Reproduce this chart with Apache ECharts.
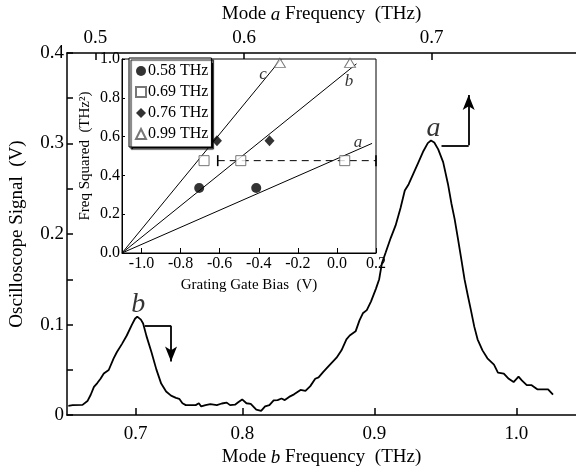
<!DOCTYPE html>
<html><head><meta charset="utf-8">
<script src="https://cdn.jsdelivr.net/npm/echarts@6/dist/echarts.min.js"></script>
<style>html,body{margin:0;padding:0;background:#fff}#c{width:576px;height:472px}</style>
</head><body><div id="c"></div>
<script>
// Main trace: horizontal coordinate (linear scan scale ~ mode-b frequency squared) and signal (V)
const scanPos = [0.3998,0.4056,0.4188,0.4254,0.4298,0.4341,0.4386,0.4429,0.4473,0.4539,
0.4561,0.4605,0.4649,0.4715,0.4781,0.4847,0.4891,0.4921,0.4970,0.5000,
0.5045,0.5111,0.5177,0.5242,0.5308,0.5374,0.5440,0.5484,0.5527,0.5572,
0.5638,0.5704,0.5747,0.5778,0.5836,0.5901,0.5988,0.6054,0.6120,0.6165,
0.6231,0.6274,0.6327,0.6384,0.6442,0.6516,0.6581,0.6634,0.6692,0.6749,
0.6802,0.6854,0.6898,0.6956,0.7022,0.7109,0.7175,0.7240,0.7306,0.7351,
0.7417,0.7504,0.7592,0.7658,0.7724,0.7768,0.7847,0.7899,0.7944,0.7997,
0.8054,0.8120,0.8163,0.8199,0.8251,0.8317,0.8383,0.8449,0.8506,0.8558,
0.8624,0.8690,0.8756,0.8814,0.8857,0.8901,0.8954,0.9020,0.9085,0.9130,
0.9174,0.9217,0.9262,0.9306,0.9349,0.9394,0.9437,0.9481,0.9547,0.9613,
0.9701,0.9754,0.9833,0.9899,0.9964,1.0030,1.0074,1.0140,1.0206,1.0281,
1.0426,1.0492];
const signal = [0.0103,0.0110,0.0113,0.0155,0.0225,0.0312,0.0354,0.0401,0.0459,0.0498,
0.0516,0.0627,0.0697,0.0784,0.0879,0.0994,0.1064,0.1088,0.1054,0.1012,
0.0872,0.0697,0.0505,0.0348,0.0260,0.0215,0.0191,0.0180,0.0131,0.0110,
0.0110,0.0110,0.0131,0.0096,0.0110,0.0121,0.0110,0.0128,0.0138,0.0110,
0.0115,0.0142,0.0173,0.0131,0.0124,0.0061,0.0047,0.0096,0.0110,0.0163,
0.0166,0.0183,0.0166,0.0201,0.0229,0.0278,0.0267,0.0320,0.0401,0.0417,
0.0480,0.0558,0.0634,0.0715,0.0837,0.0879,0.0925,0.1046,0.1124,0.1159,
0.1256,0.1397,0.1501,0.1676,0.1798,0.1955,0.2095,0.2288,0.2480,0.2550,
0.2672,0.2794,0.2917,0.3004,0.3032,0.3011,0.2934,0.2794,0.2550,0.2340,
0.2165,0.1955,0.1728,0.1501,0.1326,0.1151,0.0977,0.0837,0.0715,0.0627,
0.0558,0.0470,0.0459,0.0401,0.0365,0.0425,0.0383,0.0330,0.0330,0.0285,
0.0285,0.0225];

// Frequency tick marks (positions on the scan scale) and their labels
const bottomTickPos = [0.4900, 0.6331, 0.8097, 1.0000];
const bottomTickLabels = ['0.7', '0.8', '0.9', '1.0'];
const topTickPos = [0.4361, 0.6353, 0.8865];
const topTickLabels = ['0.5', '0.6', '0.7'];

// Peak annotations
const peakNames = ['a', 'b'];
const peakLabelPos = [[0.8890, 0.3160], [0.4934, 0.1221]];
const arrowA = [[0.8998, 0.2980], [0.9362, 0.2980], [0.9362, 0.3536]];
const arrowB = [[0.5022, 0.0988], [0.5374, 0.0988], [0.5374, 0.0592]];

// Inset: frequency squared vs grating gate bias
const insetBiasTicks = [-1.0, -0.8, -0.6, -0.4, -0.2, 0.0, 0.2];
const bias058 = [-0.705, -0.413];
const fsq058 = [0.335, 0.335];
const bias069 = [-0.680, -0.492, 0.040];
const fsq069 = [0.476, 0.476, 0.476];
const bias076 = [-0.614, -0.345];
const fsq076 = [0.578, 0.578];
const bias099 = [-0.292, 0.067];
const fsq099 = [0.980, 0.980];
const errBarBias = [-0.61, 0.20];
const errBarFsq = [0.476, 0.476];
const fitNames = ['a', 'b', 'c'];
const fitStartBias = [-1.1, -1.1, -1.1];
const fitStartFsq = [0, 0, 0];
const fitEndBias = [0.180, 0.100, -0.285];
const fitEndFsq = [0.565, 0.975, 1.000];
const fitLabelBias = [0.108, 0.062, -0.378];
const fitLabelFsq = [0.567, 0.885, 0.919];
const legendNames = ['0.58 THz', '0.69 THz', '0.76 THz', '0.99 THz'];

const SERIF = '"Liberation Serif","DejaVu Serif",serif';
const zip = (a, b) => a.map((v, i) => [v, b[i]]);
const lookup = (pos, labels) => v => {
  for (let i = 0; i < pos.length; i++) if (Math.abs(pos[i] - v) < 1e-6) return labels[i];
  return '';
};
const blk = { color: '#000', width: 1.5 };
const thin = { color: '#000', width: 1 };

const chart = echarts.init(document.getElementById('c'), null, { renderer: 'canvas' });
const fitSeries = fitNames.map((n, i) => ({
  type: 'line', xAxisIndex: 2, yAxisIndex: 1, showSymbol: false, symbol: 'none',
  data: [[fitStartBias[i], fitStartFsq[i]], [fitEndBias[i], fitEndFsq[i]]],
  lineStyle: { color: '#000', width: 1 }, silent: true, z: 6
}));
const arrowLine = pts => [
  [{ coord: pts[0], symbol: 'none' }, { coord: pts[1], symbol: 'none' }],
  [{ coord: pts[1], symbol: 'none' }, { coord: pts[2], symbol: 'arrow', symbolSize: [9, 15] }]
];
const italicRich = { i: { fontStyle: 'italic', fontFamily: SERIF, fontSize: 19, color: '#000' } };

chart.setOption({
  animation: false,
  backgroundColor: '#fff',
  grid: [
    { left: 66, top: 45, width: 517.5, height: 381.5, z: 0 },
    { left: 122, top: 59, width: 254, height: 194, show: true, backgroundColor: '#fff', borderColor: '#000', borderWidth: 1, z: 3 }
  ],
  legend: {
    data: legendNames, orient: 'vertical', left: 129, top: 58, z: 20,
    backgroundColor: '#fff', borderColor: '#000', borderWidth: 1,
    shadowColor: '#000', shadowOffsetX: 2, shadowOffsetY: 2, shadowBlur: 1,
    padding: [5, 3, 5, 6], itemGap: 5, itemWidth: 10, itemHeight: 10,
    textStyle: { fontFamily: SERIF, fontSize: 16, color: '#000', padding: [0, 0, 0, -3] },
    selectedMode: false
  },
  xAxis: [
    { type: 'value', gridIndex: 0, position: 'bottom', min: 0.398, max: 1.08,
      axisLine: { lineStyle: blk }, splitLine: { show: false },
      axisTick: { inside: true, length: 7, customValues: bottomTickPos, lineStyle: blk },
      axisLabel: { customValues: bottomTickPos, formatter: lookup(bottomTickPos, bottomTickLabels), color: '#000', fontFamily: SERIF, fontSize: 19, margin: 9 },
      name: 'Mode {i|b} Frequency  (THz)', nameLocation: 'middle', nameGap: 27,
      nameTextStyle: { fontFamily: SERIF, fontSize: 19, color: '#000', rich: italicRich } },
    { type: 'value', gridIndex: 0, position: 'top', min: 0.398, max: 1.08,
      axisLine: { lineStyle: blk }, splitLine: { show: false },
      axisTick: { inside: true, length: 7, customValues: topTickPos, lineStyle: blk },
      axisLabel: { customValues: topTickPos, formatter: lookup(topTickPos, topTickLabels), color: '#000', fontFamily: SERIF, fontSize: 19, margin: 5 },
      name: 'Mode {i|a} Frequency  (THz)', nameLocation: 'middle', nameGap: 21,
      nameTextStyle: { fontFamily: SERIF, fontSize: 19, color: '#000', rich: italicRich } },
    { type: 'value', gridIndex: 1, min: -1.1, max: 0.2, z: 7,
      axisLine: { onZero: false, lineStyle: thin }, splitLine: { show: false },
      axisTick: { inside: true, length: 5, customValues: insetBiasTicks, lineStyle: thin },
      axisLabel: { customValues: insetBiasTicks, formatter: v => v.toFixed(1), color: '#000', fontFamily: SERIF, fontSize: 16, margin: 3 },
      name: 'Grating Gate Bias  (V)', nameLocation: 'middle', nameGap: 25,
      nameTextStyle: { fontFamily: SERIF, fontSize: 15, color: '#000' } }
  ],
  yAxis: [
    { type: 'value', gridIndex: 0, min: 0, max: 0.4, interval: 0.1,
      axisLine: { show: true, onZero: false, lineStyle: blk }, splitLine: { show: false },
      axisTick: { show: true, inside: true, length: 6, lineStyle: blk },
      minorTick: { show: true, splitNumber: 2, length: 6, lineStyle: blk },
      axisLabel: { formatter: v => (v === 0 ? '0' : v.toFixed(1)), color: '#000', fontFamily: SERIF, fontSize: 19, margin: 3 },
      name: 'Oscilloscope Signal  (V)', nameLocation: 'middle', nameGap: 40,
      nameTextStyle: { fontFamily: SERIF, fontSize: 19, color: '#000' } },
    { type: 'value', gridIndex: 1, min: 0, max: 1, interval: 0.2, z: 7,
      axisLine: { show: true, onZero: false, lineStyle: thin }, splitLine: { show: false },
      axisTick: { show: true, inside: true, length: 3, lineStyle: thin },
      axisLabel: { formatter: v => v.toFixed(1), color: '#000', fontFamily: SERIF, fontSize: 16, margin: 2 },
      name: 'Freq Squared  (THz²)', nameLocation: 'middle', nameGap: 29,
      nameTextStyle: { fontFamily: SERIF, fontSize: 15, color: '#000' } }
  ],
  series: [
    { type: 'line', xAxisIndex: 0, yAxisIndex: 0, data: zip(scanPos, signal), showSymbol: false, symbol: 'none',
      lineStyle: { color: '#000', width: 1.8 }, silent: true, z: 2,
      markLine: { silent: true, animation: false, label: { show: false },
        lineStyle: { color: '#000', width: 1.8, type: 'solid' }, itemStyle: { color: '#000' },
        data: arrowLine(arrowA).concat(arrowLine(arrowB)) } },
    { type: 'scatter', xAxisIndex: 0, yAxisIndex: 0, symbolSize: 0, silent: true, z: 2,
      data: peakNames.map((n, i) => ({ name: n, value: peakLabelPos[i] })),
      label: { show: true, position: 'inside', formatter: p => p.name, fontFamily: SERIF, fontStyle: 'italic', fontSize: 28, color: '#000' } },
    ...fitSeries,
    { type: 'scatter', xAxisIndex: 2, yAxisIndex: 1, symbolSize: 0, silent: true, z: 6,
      data: fitNames.map((n, i) => ({ name: n, value: [fitLabelBias[i], fitLabelFsq[i]] })),
      label: { show: true, position: 'inside', formatter: p => p.name, fontFamily: SERIF, fontStyle: 'italic', fontSize: 17, color: '#000' } },
    { type: 'line', xAxisIndex: 2, yAxisIndex: 1, data: zip(errBarBias, errBarFsq), symbol: 'rect', symbolSize: [1.6, 11], showSymbol: true,
      itemStyle: { color: '#000' }, lineStyle: { color: '#000', width: 1, type: [7, 5] }, silent: true, z: 6 },
    { name: legendNames[0], type: 'scatter', xAxisIndex: 2, yAxisIndex: 1, data: zip(bias058, fsq058), symbol: 'circle', symbolSize: 10,
      itemStyle: { color: '#000' }, z: 8 },
    { name: legendNames[1], type: 'scatter', xAxisIndex: 2, yAxisIndex: 1, data: zip(bias069, fsq069), symbol: 'rect', symbolSize: 10,
      itemStyle: { color: '#fff', borderColor: '#555', borderWidth: 1 }, z: 8 },
    { name: legendNames[2], type: 'scatter', xAxisIndex: 2, yAxisIndex: 1, data: zip(bias076, fsq076), symbol: 'diamond', symbolSize: [10, 11],
      itemStyle: { color: '#000' }, z: 8 },
    { name: legendNames[3], type: 'scatter', xAxisIndex: 2, yAxisIndex: 1, data: zip(bias099, fsq099), symbol: 'triangle', symbolSize: [11, 9],
      itemStyle: { color: '#fff', borderColor: '#555', borderWidth: 1 }, z: 8 }
  ]
});
</script>
</body></html>
